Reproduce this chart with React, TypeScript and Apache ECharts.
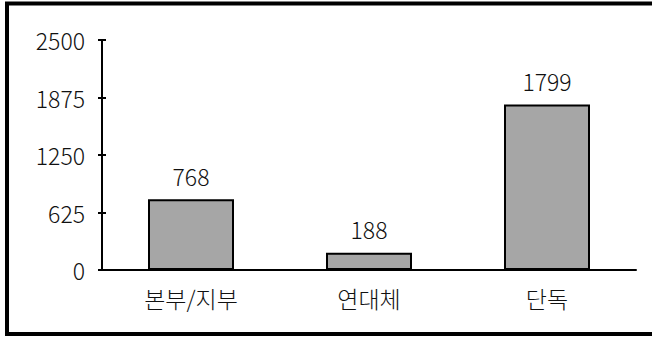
import React, { useEffect, useRef } from "react";
import * as echarts from "echarts";

const categories = ["본부/지부", "연대체", "단독"];
const values = [768, 188, 1799];
const yMin = 0;
const yMax = 2500;
const yInterval = 625;

const FONT = "'Noto Sans CJK KR', sans-serif";
const FS = 23;

export default function App() {
  const ref = useRef<HTMLDivElement>(null);
  useEffect(() => {
    if (!ref.current) return;
    const chart = echarts.init(ref.current, null, { renderer: "svg" });
    const yCommon = {
      type: "value" as const,
      min: yMin,
      max: yMax,
      interval: yInterval,
      position: "left" as const,
      splitLine: { show: false },
    };
    chart.setOption({
      animation: false,
      backgroundColor: "#ffffff",
      grid: { left: 102, right: 16, top: 40, bottom: 67, containLabel: false },
      xAxis: {
        type: "category",
        data: categories,
        axisLine: { show: true, lineStyle: { color: "#000", width: 2 } },
        axisTick: { show: false },
        axisLabel: {
          color: "#111",
          fontSize: FS,
          fontWeight: 300,
          fontFamily: FONT,
          margin: 16,
        },
      },
      yAxis: [
        {
          ...yCommon,
          axisLine: { show: true, lineStyle: { color: "#000", width: 2 } },
          axisTick: { show: true, inside: false, length: 4, lineStyle: { color: "#000", width: 2 } },
          axisLabel: {
            color: "#111",
            fontSize: FS,
            fontWeight: 300,
            fontFamily: FONT,
            margin: 17,
            formatter: (v: number) => String(v),
          },
        },
        {
          ...yCommon,
          offset: 0,
          axisLine: { show: false },
          axisTick: { show: true, inside: true, length: 4, lineStyle: { color: "#000", width: 2 } },
          axisLabel: { show: false },
        },
      ],
      series: [
        {
          type: "bar",
          data: values,
          yAxisIndex: 0,
          barWidth: 86,
          itemStyle: { color: "#a6a6a6", borderColor: "#000", borderWidth: 2 },
          label: {
            show: true,
            position: "top",
            distance: 12,
            color: "#111",
            fontSize: FS,
            fontWeight: 300,
            fontFamily: FONT,
            formatter: (p: any) => String(p.value),
          },
        },
      ],
      graphic: [
        { type: "line", shape: { x1: 7, y1: 2, x2: 7, y2: 336 }, style: { stroke: "#000", lineWidth: 4 } },
        { type: "line", shape: { x1: 5, y1: 3.5, x2: 652, y2: 3.5 }, style: { stroke: "#000", lineWidth: 4 } },
        { type: "line", shape: { x1: 5, y1: 334, x2: 652, y2: 334 }, style: { stroke: "#000", lineWidth: 4 } },
      ],
    });
    return () => chart.dispose();
  }, []);
  return (
    <div
      ref={ref}
      style={{ position: "fixed", left: 0, top: 0, width: 652, height: 337, background: "#fff" }}
    />
  );
}
